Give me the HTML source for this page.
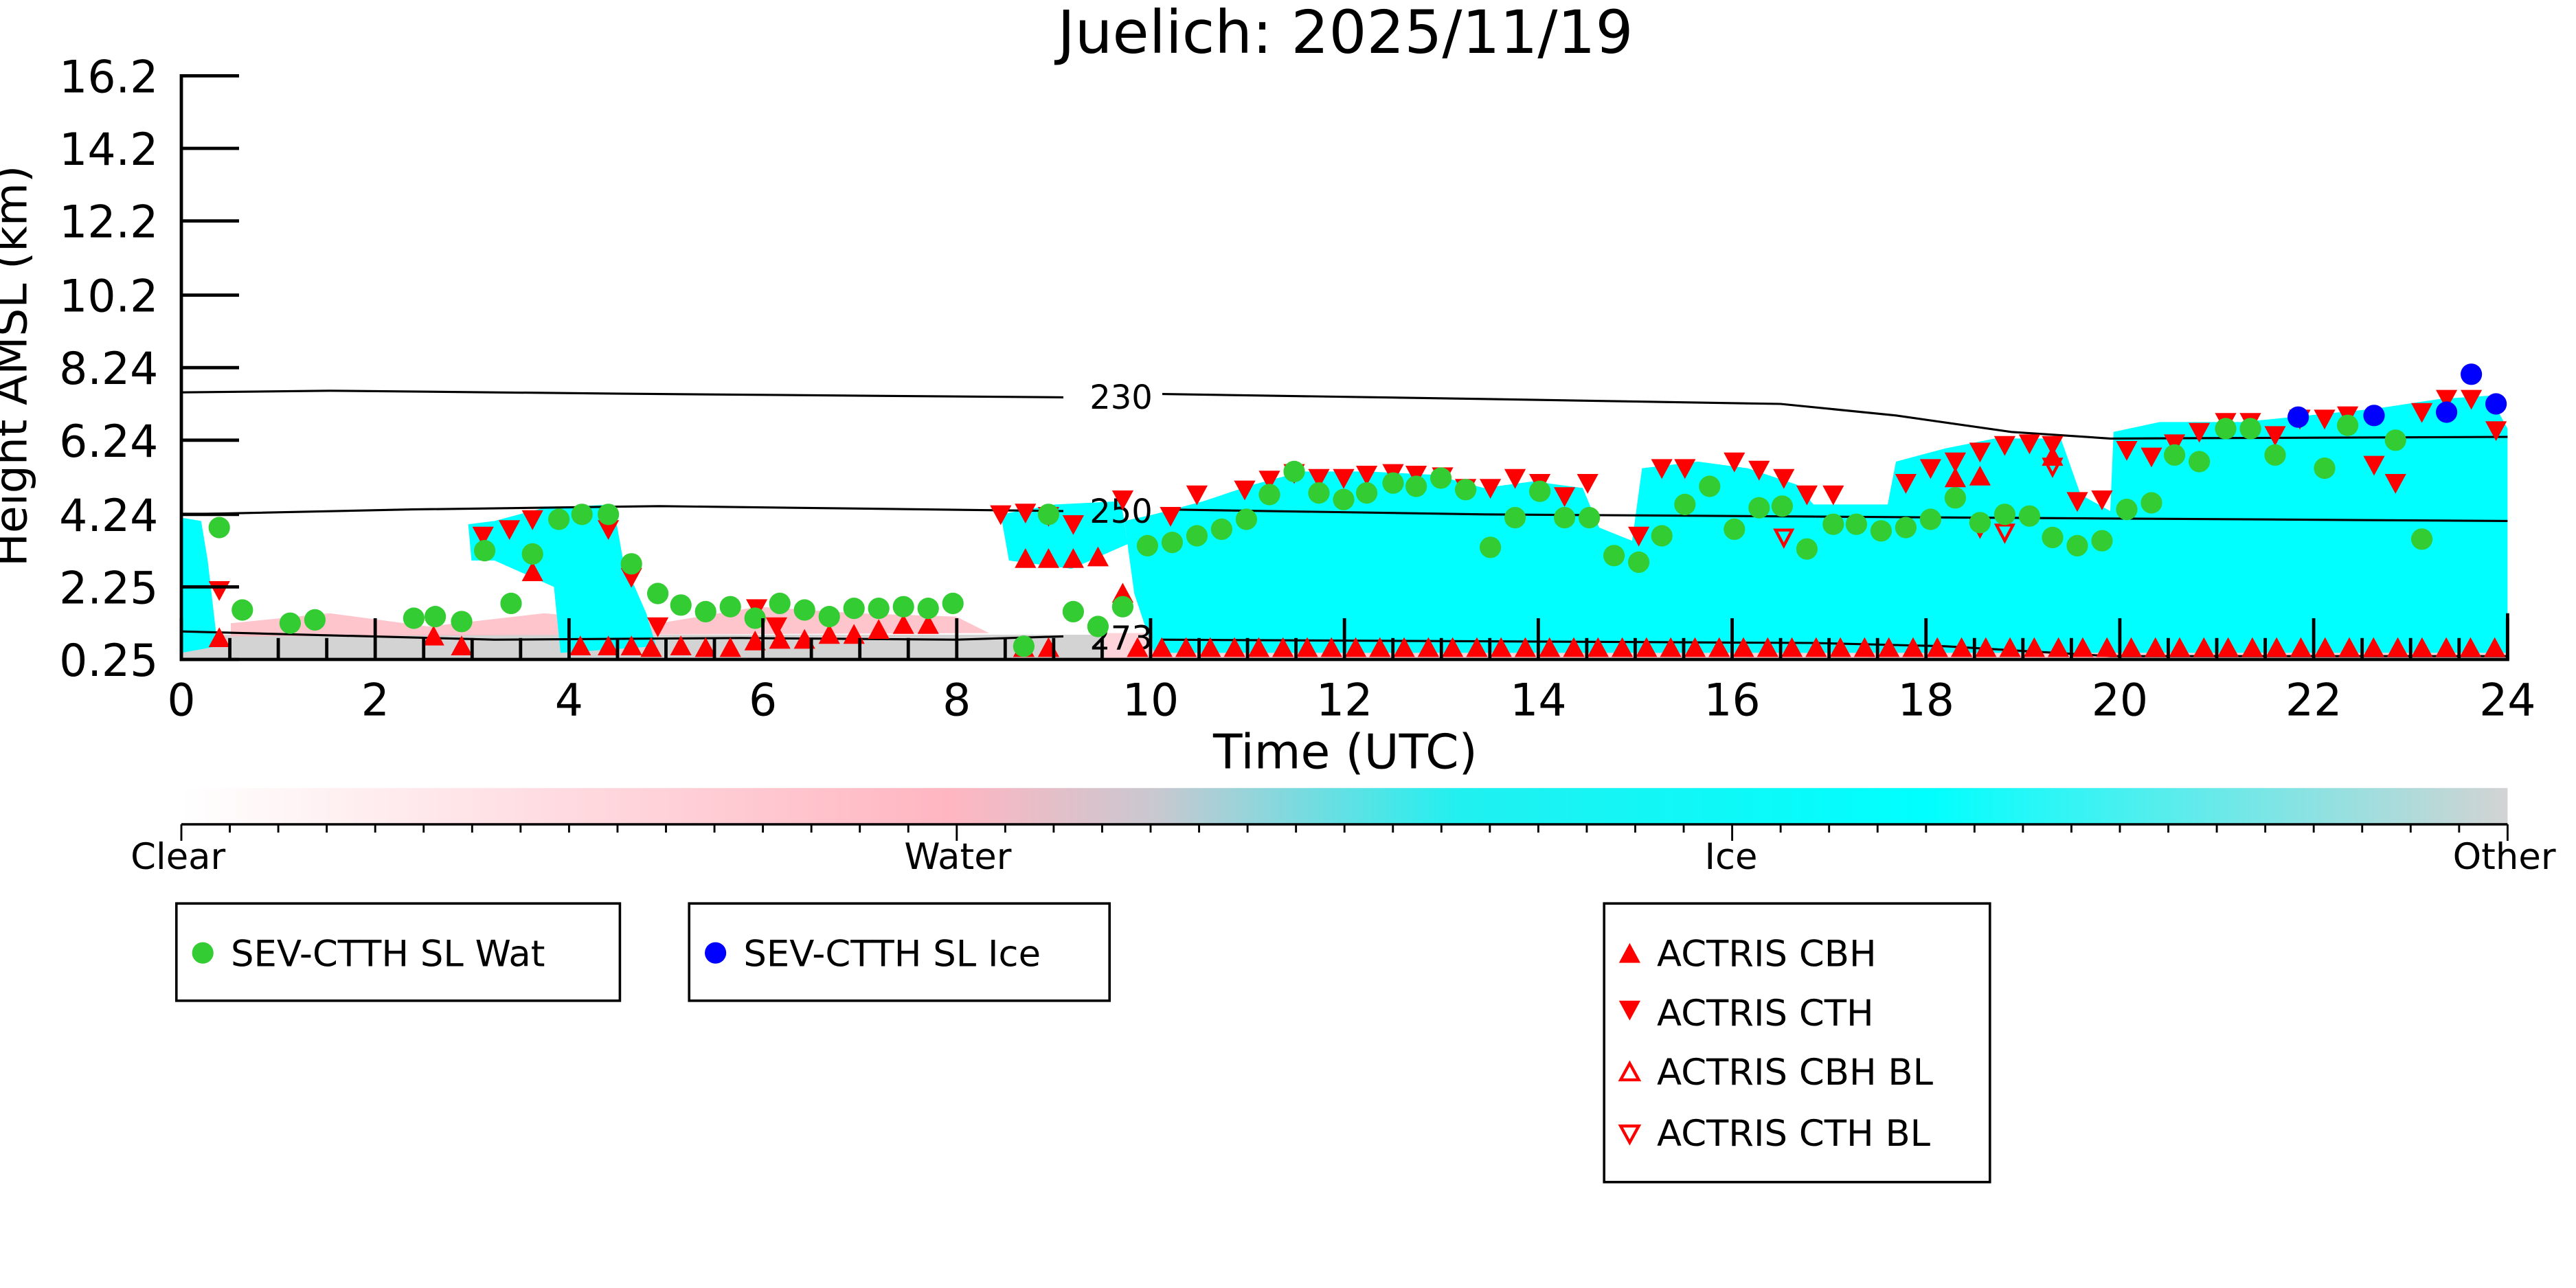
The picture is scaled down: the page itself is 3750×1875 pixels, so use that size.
<!DOCTYPE html>
<html><head><meta charset="utf-8"><style>
html,body{margin:0;padding:0;background:#fff;}
svg{display:block;font-family:"DejaVu Sans","Liberation Sans",sans-serif;}
</style></head><body>
<svg id="s" width="3750" height="1875" viewBox="0 0 1562.5 781.25" xmlns="http://www.w3.org/2000/svg">
<defs>
<linearGradient id="cb" x1="0" x2="1" y1="0" y2="0">
<stop offset="0" stop-color="#ffffff"/>
<stop offset="0.33" stop-color="#ffb6c1"/>
<stop offset="0.42" stop-color="#c8c8d0"/>
<stop offset="0.55" stop-color="#20f0f0"/>
<stop offset="0.75" stop-color="#00ffff"/>
<stop offset="1" stop-color="#d3d3d3"/>
</linearGradient>
</defs>
<text x="816" y="32" font-size="36" text-anchor="middle">Juelich: 2025/11/19</text>
<!-- bottom gray/pink strip -->
<rect x="110" y="385" width="560" height="15" fill="#d3d3d3"/>
<path d="M140 378 L200 372 L260 380 L330 372 L400 378 L460 368 L520 372 L580 374 L600 384 L140 386Z" fill="#ffb6c1" opacity="0.8"/>
<rect x="670" y="384" width="851" height="16" fill="#ffb6c1" opacity="0.6"/>
<!-- cyan clouds -->
<g fill="#00ffff">
<path d="M110 314 L122 316 L126 340 L132 392 L110 396Z"/>
<path d="M284 318 L300 316 L330 308 L372 306 L378 340 L392 372 L398 392 L340 396 L336 356 L300 340 L286 340Z"/>
<path d="M607 312 L640 306 L680 304 L684 330 L650 345 L612 340Z"/>
<path d="M682 316 L700 312 L730 304 L760 294 L790 286 L830 286 L870 288 L900 296 L930 292 L960 296 L970 320 L990 328 L996 284 L1030 280 L1060 284 L1090 294 L1100 306 L1145 306 L1150 280 L1180 272 L1210 266 L1250 266 L1262 300 L1280 310 L1282 262 L1310 256 L1360 256 L1400 252 L1440 248 L1480 242 L1510 240 L1521 260 L1521 396 L700 396 L688 360Z"/>
</g>
<!-- contours -->
<g fill="none" stroke="#000" stroke-width="1.3">
<path d="M110 238 L200 237 L400 239 L645 241"/>
<path d="M705 239 L900 242 L1080 245 L1150 252 L1220 262 L1280 266 L1521 265"/>
<path d="M110 312 L250 309 L400 307 L645 310"/>
<path d="M705 309 L900 312 L1200 314 L1521 316"/>
<path d="M110 383 L300 388 L450 387 L580 388 L645 386"/>
<path d="M705 388 L900 389 L1100 390 L1180 392 L1280 398 L1521 398"/>
</g>
<g font-size="20" text-anchor="middle">
<text x="680" y="248">230</text><text x="680" y="317">250</text><text x="680" y="394">273</text>
</g>
<g id="mk"></g>
<!-- axes -->
<g stroke="#000" stroke-width="2">
<line x1="110" y1="45" x2="110" y2="401"/>
<line x1="109" y1="400" x2="1522" y2="400"/>
<line x1="1521" y1="372" x2="1521" y2="400"/>
</g>
<g id="ticks" stroke="#000" stroke-width="2"></g>
<g font-size="27" text-anchor="end" id="yl"></g>
<g font-size="27" text-anchor="middle" id="xl"></g>
<text x="816" y="466" font-size="29" text-anchor="middle">Time (UTC)</text>
<text transform="translate(16,222) rotate(-90)" font-size="27" text-anchor="middle">Height AMSL (km)</text>
<!-- colorbar -->
<rect x="110" y="478" width="1411" height="22" fill="url(#cb)"/>
<line x1="110" y1="500" x2="1521" y2="500" stroke="#000" stroke-width="1.5"/>
<g id="cbt" stroke="#000" stroke-width="1.2"></g>
<g font-size="22" text-anchor="middle">
<text x="108" y="527">Clear</text><text x="581" y="527">Water</text><text x="1050" y="527">Ice</text><text x="1519" y="527">Other</text>
</g>
<!-- legends -->
<g fill="none" stroke="#000" stroke-width="1.5">
<rect x="107" y="548" width="269" height="59"/>
<rect x="418" y="548" width="255" height="59"/>
<rect x="973" y="548" width="234" height="169"/>
</g>
<g font-size="22">
<circle cx="123" cy="578" r="6.5" fill="#33cc33"/><text x="140" y="586">SEV-CTTH SL Wat</text>
<circle cx="434" cy="578" r="6.5" fill="#0000ff"/><text x="451" y="586">SEV-CTTH SL Ice</text>
<path d="M982 584 L995 584 L988.5 572Z" fill="#f00"/><text x="1005" y="586">ACTRIS CBH</text>
<path d="M982 607 L995 607 L988.5 619Z" fill="#f00"/><text x="1005" y="622">ACTRIS CTH</text>
<path d="M983 655 L994 655 L988.5 645Z" fill="none" stroke="#f00" stroke-width="1.8"/><text x="1005" y="658">ACTRIS CBH BL</text>
<path d="M983 683 L994 683 L988.5 693Z" fill="none" stroke="#f00" stroke-width="1.8"/><text x="1005" y="695">ACTRIS CTH BL</text>
</g>
</svg>
<script>
var NS="http://www.w3.org/2000/svg";
function el(p,t,a){var e=document.createElementNS(NS,t);for(var k in a)e.setAttribute(k,a[k]);p.appendChild(e);return e;}
var mk=document.getElementById('mk'),tk=document.getElementById('ticks');
var up=[[133,387],[263,386],[280,392],[323,347],[352,392],[369,392],[383,392],[413,392],[458,389],[473,388],[488,388],[503,385],[518,385],[533,382],[548,379],[563,379],[622,339],[636,339],[651,339],[666,338],[681,360],[1186,290],[1201,289],[1245,277]];
for(var x=690;x<1520;x+=14.7)up.push([x,393]);
[395,428,443,621,636].forEach(function(x){up.push([x,393]);});
var dn=[[133,358],[293,325],[309,321],[323,315],[369,321],[383,350],[399,380],[459,369],[471,380],[607,312],[622,311],[636,313],[651,318],[681,303],[710,313],[726,300],[755,297],[770,291],[785,287],[800,290],[815,290],[829,288],[845,287],[859,288],[875,289],[889,296],[904,296],[919,290],[934,293],[949,301],[963,293],[994,325],[1008,284],[1022,284],[1052,280],[1067,285],[1082,290],[1096,300],[1112,300],[1156,293],[1171,284],[1186,280],[1201,274],[1216,270],[1231,269],[1245,270],[1260,304],[1275,303],[1290,273],[1305,277],[1319,269],[1334,262],[1350,256],[1365,256],[1380,264],[1395,254],[1410,254],[1424,252],[1440,282],[1453,293],[1469,250],[1484,242],[1499,242],[1514,261]];
var dnO=[[1082,326],[1201,320],[1216,323],[1245,283]];
var g=[[133,320],[147,370],[176,378],[191,376],[251,375],[264,374],[280,377],[294,334],[310,366],[323,336],[339,315],[353,312],[369,312],[383,342],[399,360],[413,367],[428,371],[443,368],[458,375],[473,366],[488,370],[503,374],[518,369],[533,369],[548,368],[563,369],[578,366],[621,392],[636,312],[651,371],[666,380],[681,368],[696,331],[711,329],[726,325],[741,321],[756,315],[770,300],[785,286],[800,299],[815,303],[829,299],[845,293],[859,295],[874,290],[889,297],[904,332],[919,314],[934,298],[949,314],[964,314],[979,337],[994,341],[1008,325],[1022,306],[1037,295],[1052,321],[1067,308],[1081,307],[1096,333],[1112,318],[1126,318],[1141,322],[1156,320],[1171,315],[1186,302],[1201,317],[1216,312],[1231,313],[1245,326],[1260,331],[1275,328],[1290,309],[1305,305],[1319,276],[1334,280],[1350,260],[1365,260],[1380,276],[1410,284],[1424,258],[1453,267],[1469,327]];
var b=[[1394,253],[1440,252],[1484,250],[1499,227],[1514,245]];
up.forEach(function(p){el(mk,'path',{d:'M'+(p[0]-6.5)+' '+(p[1]+5.5)+'L'+(p[0]+6.5)+' '+(p[1]+5.5)+'L'+p[0]+' '+(p[1]-6.5)+'Z',fill:'#f00'});});
dn.forEach(function(p){el(mk,'path',{d:'M'+(p[0]-6.5)+' '+(p[1]-5.5)+'L'+(p[0]+6.5)+' '+(p[1]-5.5)+'L'+p[0]+' '+(p[1]+6.5)+'Z',fill:'#f00'});});
dnO.forEach(function(p){el(mk,'path',{d:'M'+(p[0]-5)+' '+(p[1]-4.5)+'L'+(p[0]+5)+' '+(p[1]-4.5)+'L'+p[0]+' '+(p[1]+5)+'Z',fill:'none',stroke:'#f00','stroke-width':1.8});});
g.forEach(function(p){el(mk,'circle',{cx:p[0],cy:p[1],r:6.5,fill:'#33cc33'});});
b.forEach(function(p){el(mk,'circle',{cx:p[0],cy:p[1],r:6.5,fill:'#0000ff'});});
var ys=[["16.2",46],["14.2",90],["12.2",134],["10.2",179],["8.24",223],["6.24",267],["4.24",312],["2.25",356],["0.25",400]];
var yl=document.getElementById('yl');
ys.forEach(function(a){el(tk,'line',{x1:110,y1:a[1],x2:145,y2:a[1]});var t=el(yl,'text',{x:96,y:a[1]+10});t.textContent=a[0];});
var xl=document.getElementById('xl');
for(var h=0;h<=24;h+=0.5){var x=110+h*58.79;var maj=(h%2==0);el(tk,'line',{x1:x,y1:400,x2:x,y2:maj?375:387});
 if(maj){var t=el(xl,'text',{x:x,y:434});t.textContent=h;}}
var cbt=document.getElementById('cbt');
for(var i=0;i<=48;i++){var x=110+i*1411/48;el(cbt,'line',{x1:x,y1:500,x2:x,y2:(i%16==0)?510:505});}
</script>
</body></html>
